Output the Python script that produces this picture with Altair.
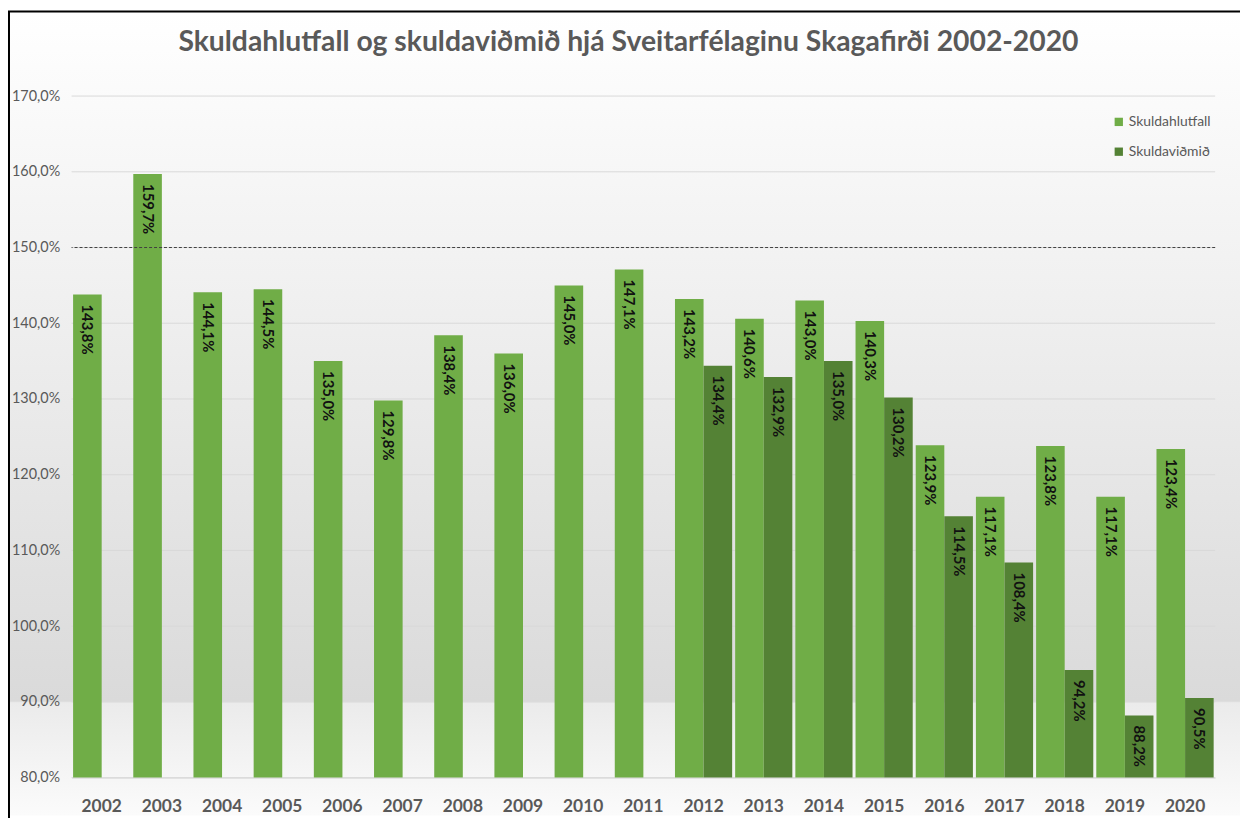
import altair as alt
import pandas as pd

# ---- data ----
years = [str(y) for y in range(2002, 2021)]
skuldahlutfall = [143.8, 159.7, 144.1, 144.5, 135.0, 129.8, 138.4, 136.0, 145.0, 147.1,
                  143.2, 140.6, 143.0, 140.3, 123.9, 117.1, 123.8, 117.1, 123.4]
vidmid_years = [str(y) for y in range(2012, 2021)]
skuldavidmid = [134.4, 132.9, 135.0, 130.2, 114.5, 108.4, 94.2, 88.2, 90.5]
series = ["Skuldahlutfall", "Skuldaviðmið"]
colors = ["#70AD47", "#548235"]
y_ticks = [80, 90, 100, 110, 120, 130, 140, 150, 160, 170]
ref_value = [150]
title_text = "Skuldahlutfall og skuldaviðmið hjá Sveitarfélaginu Skagafirði 2002-2020"

rows = [{"year": y, "series": series[0], "value": v} for y, v in zip(years, skuldahlutfall)]
rows += [{"year": y, "series": series[1], "value": v} for y, v in zip(vidmid_years, skuldavidmid)]
df = pd.DataFrame(rows)

W, H = 1151, 686
PL, PT, PR, PB = 64, 86, 25, 38
FONT = "Lato"
GRAY = "#595959"

one = pd.DataFrame({"a": [0]})

bg = alt.Chart(one).mark_rect(
    color=alt.LinearGradient(
        gradient="linear", x1=0, y1=0, x2=0, y2=1,
        stops=[
            alt.GradientStop(color="#ffffff", offset=0),
            alt.GradientStop(color="#eeeeee", offset=0.4),
            alt.GradientStop(color="#dadada", offset=0.858),
            alt.GradientStop(color="#ebebeb", offset=0.86),
            alt.GradientStop(color="#fbfbfb", offset=1),
        ],
    )
).encode(x=alt.value(-PL), x2=alt.value(W + PR), y=alt.value(-PT), y2=alt.value(H + PB))

border = alt.Chart(one).mark_rect(fill="transparent", stroke="#000000", strokeWidth=2).encode(
    x=alt.value(-PL + 1), x2=alt.value(W + PR + 20), y=alt.value(-PT + 1), y2=alt.value(H + PB + 20)
)

yscale = alt.Scale(domain=[80, 170], nice=False, zero=False)

grid = alt.Chart(pd.DataFrame({"t": y_ticks})).mark_rule(color="#d9d9d9", strokeWidth=1).encode(
    y=alt.Y("t:Q", scale=yscale)
)

x_enc = alt.X(
    "year:N",
    sort=years,
    scale=alt.Scale(paddingInner=0.05, paddingOuter=0.025),
    axis=alt.Axis(title=None, labelAngle=0, ticks=False, domainColor="#d9d9d9",
                  labelColor=GRAY, labelFontSize=17.5, labelFontWeight="bold",
                  labelFont=FONT, labelPadding=20, grid=False, zindex=1),
)
xoff = alt.XOffset("series:N", scale=alt.Scale(domain=series, paddingInner=0, paddingOuter=0))

base = alt.Chart(df).encode(x=x_enc, xOffset=xoff)

bars = base.mark_bar().encode(
    y=alt.Y("value:Q", scale=yscale,
            axis=alt.Axis(values=y_ticks, title=None, ticks=False, domain=False, grid=False,
                          labelColor=GRAY, labelFontSize=14.5, zindex=1,
                          labelFont=FONT, labelPadding=12,
                          labelExpr="replace(format(datum.value, '.1f'), '.', ',') + '%'")),
    y2=alt.datum(80),
    color=alt.Color("series:N", scale=alt.Scale(domain=series, range=colors),
                    legend=alt.Legend(title=None, orient="none", legendX=1047, legendY=19,
                                      symbolType="square", symbolSize=70, symbolStrokeWidth=0,
                                      labelFont=FONT, labelFontSize=14, labelColor=GRAY,
                                      rowPadding=16, labelOffset=3)),
)

labels = base.mark_text(angle=90, align="left", baseline="middle", dx=10,
                        font=FONT, fontSize=15, fontWeight="bold", color="#111111").transform_calculate(
    label="replace(format(datum.value, '.1f'), '.', ',') + '%'"
).encode(y="value:Q", text="label:N")

rule = alt.Chart(pd.DataFrame({"v": ref_value})).mark_rule(
    color="#404040", strokeDash=[3, 2], strokeWidth=1
).encode(y="v:Q")

chart = alt.layer(bg, border, grid, bars, rule, labels).properties(
    width=W, height=H,
    autosize="none",
    padding={"left": PL, "top": PT, "right": PR, "bottom": PB},
    title=alt.Title(title_text, font=FONT, fontSize=28.5, fontWeight="bold", color=GRAY,
                    anchor="middle", baseline="alphabetic", offset=-69, dx=-15),
).configure_view(stroke=None)

chart.save("out.html", embed_options={"renderer": "svg", "actions": False})
